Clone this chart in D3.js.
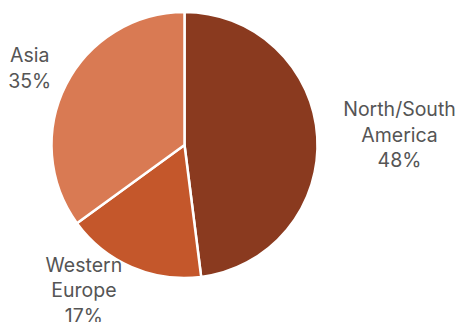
<!DOCTYPE html>
<html><head><meta charset="utf-8">
<script src="https://cdn.jsdelivr.net/npm/d3@7"></script>
<style>html,body{margin:0;padding:0;background:#fff;}svg{display:block;}</style>
</head><body>
<svg id="chart" width="460" height="322"></svg>
<script>
const categories = ["North/South America", "Western Europe", "Asia"];
const labelLines = [["North/South", "America"], ["Western", "Europe"], ["Asia"]];
const values = [48, 17, 35];
const colors = ["#8A3A1F", "#C4572B", "#D97A53"];

const W = 460, H = 322;
const cx = 184.5, cy = 145, R = 133;
// small layout nudges for the outside labels [dx, dy]
const labelNudge = [[0, -1], [-1.5, 4.7], [3, -7.5]];

const svg = d3.select("#chart");
const g = svg.append("g").attr("transform", `translate(${cx},${cy})`);

const data = categories.map((c, i) => ({ name: c, value: values[i], lines: labelLines[i], color: colors[i], nudge: labelNudge[i] }));
const pie = d3.pie().sort(null).value(d => d.value);
const arcs = pie(data);
const arc = d3.arc().innerRadius(0).outerRadius(R);

g.selectAll("path.slice").data(arcs).join("path")
  .attr("class", "slice")
  .attr("d", arc)
  .attr("fill", d => d.data.color)
  .attr("stroke", "#fff")
  .attr("stroke-width", 2.5)
  .attr("stroke-linejoin", "round");

const fontSize = 19.5, lineH = 25.5;
const labelR = R + 20;
arcs.forEach(a => {
  const mid = (a.startAngle + a.endAngle) / 2;
  const px = Math.sin(mid) * labelR, py = -Math.cos(mid) * labelR;
  const lines = a.data.lines.concat([a.data.value + "%"]);
  const t = g.append("text")
    .attr("font-family", "Inter, 'Open Sans', sans-serif")
    .attr("font-size", fontSize)
    .attr("fill", "#555")
    .attr("text-anchor", "middle");
  lines.forEach((l, i) => t.append("tspan").attr("x", 0).attr("y", i * lineH).text(l));
  const bb = t.node().getBBox();
  const right = Math.sin(mid) >= 0;
  const x = (right ? px + 6 + bb.width / 2 : px - bb.width / 2) + a.data.nudge[0];
  const capTop = -fontSize * 0.73;
  const blockH = (lines.length - 1) * lineH - capTop;
  const y = py - blockH / 2 - capTop + a.data.nudge[1];
  t.attr("transform", `translate(${x},${y})`);
});
</script>
</body></html>
